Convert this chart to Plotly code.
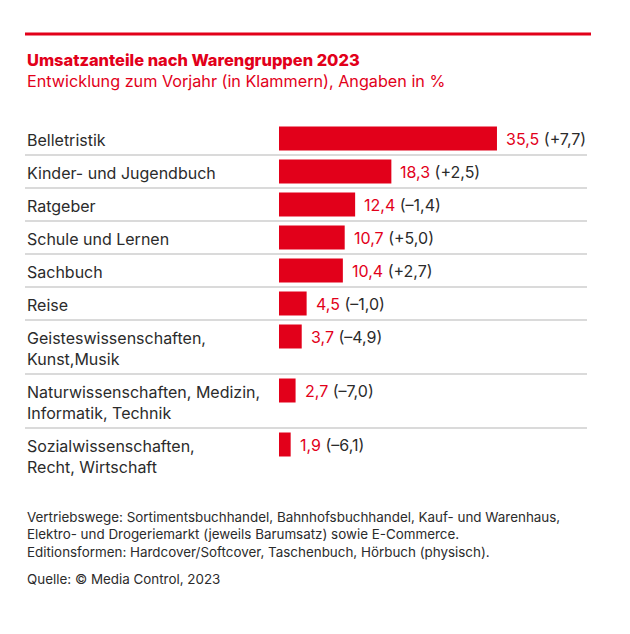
import plotly.graph_objects as go

# ---- data ----
categories = [
    "Belletristik",
    "Kinder- und Jugendbuch",
    "Ratgeber",
    "Schule und Lernen",
    "Sachbuch",
    "Reise",
    "Geisteswissenschaften,<br>Kunst,Musik",
    "Naturwissenschaften, Medizin,<br>Informatik, Technik",
    "Sozialwissenschaften,<br>Recht, Wirtschaft",
]
shares = [35.5, 18.3, 12.4, 10.7, 10.4, 4.5, 3.7, 2.7, 1.9]
changes = [7.7, 2.5, -1.4, 5.0, 2.7, -1.0, -4.9, -7.0, -6.1]

title = "Umsatzanteile nach Warengruppen 2023"
subtitle = "Entwicklung zum Vorjahr (in Klammern), Angaben in %"
footnote = ("Vertriebswege: Sortimentsbuchhandel, Bahnhofsbuchhandel, Kauf- und Warenhaus,<br>"
            "Elektro- und Drogeriemarkt (jeweils Barumsatz) sowie E-Commerce.<br>"
            "Editionsformen: Hardcover/Softcover, Taschenbuch, Hörbuch (physisch).")
source = "Quelle: © Media Control, 2023"

# ---- styling ----
RED = "#e2001a"
TEXT = "#2b2b2b"
GRID = "#b5b5b5"
FONT = "Inter"

OFF = 8  # page body margin in the browser
W, H = 630, 634
PLOT_L, PLOT_R = 279 - OFF, 591 - OFF   # pixel x of plot area
PLOT_T = 122 - OFF                      # pixel y of plot area top
ROW_H, EXTRA_LINE = 33, 21
LABEL_LINE = 21.5
BAR_PX = 24
PX_PER_UNIT = 6.14

# row layout derived from number of label lines
tops, centers, bottoms = [], [], []
cur = 0
for c in categories:
    n = c.count("<br>") + 1
    h = ROW_H + EXTRA_LINE * (n - 1)
    tops.append(cur)
    centers.append(cur + ROW_H / 2)
    cur += h
    bottoms.append(cur)
total = cur
PLOT_B = PLOT_T + total

def fmt(v):
    return f"{v:.1f}".replace(".", ",")

def fmt_change(v):
    sign = "+" if v >= 0 else "–"
    return sign + fmt(abs(v))

def px_x(p):  # reference pixel x -> paper
    return (p - OFF - PLOT_L) / (PLOT_R - PLOT_L)

def px_y(p):  # reference pixel y -> paper
    return (PLOT_B - (p - OFF)) / (PLOT_B - PLOT_T)

fig = go.Figure()
fig.add_trace(go.Bar(
    x=shares, y=centers, orientation="h", width=BAR_PX,
    marker=dict(color=RED, line=dict(width=0)),
    hoverinfo="skip",
))

annotations = []
# category labels (one annotation per line for exact line spacing)
for c, ctr in zip(categories, centers):
    for i, line in enumerate(c.split("<br>")):
        annotations.append(dict(
            text=line, xref="paper", yref="y", x=px_x(25), y=ctr + 1 + i * LABEL_LINE,
            xanchor="left", yanchor="middle", showarrow=False, align="left",
            font=dict(family=FONT, size=16, color=TEXT),
        ))
# value labels
for v, ch, ctr in zip(shares, changes, centers):
    annotations.append(dict(
        text=f'<span style="color:{RED}">{fmt(v)}</span> ({fmt_change(ch)})',
        xref="x", yref="y", x=v, y=ctr + 0.5, xshift=7,
        xanchor="left", yanchor="middle", showarrow=False,
        font=dict(family=FONT, size=16, color=TEXT),
    ))
# title / subtitle
annotations.append(dict(
    text=title, xref="paper", yref="paper", x=px_x(25), y=px_y(60),
    xanchor="left", yanchor="middle", showarrow=False,
    font=dict(family=FONT, size=16.4, color=RED, weight=800),
))
annotations.append(dict(
    text=subtitle, xref="paper", yref="paper", x=px_x(25), y=px_y(81),
    xanchor="left", yanchor="middle", showarrow=False,
    font=dict(family=FONT, size=16.2, color=RED),
))
# footnote
annotations.append(dict(
    text=footnote, xref="paper", yref="paper", x=px_x(25), y=px_y(507),
    xanchor="left", yanchor="top", showarrow=False, align="left",
    font=dict(family=FONT, size=13.4, color=TEXT),
))
annotations.append(dict(
    text=source, xref="paper", yref="paper", x=px_x(25), y=px_y(579),
    xanchor="left", yanchor="middle", showarrow=False, align="left",
    font=dict(family=FONT, size=13.4, color=TEXT),
))

shapes = []
# top red rule
shapes.append(dict(type="line", xref="paper", yref="paper",
                   x0=px_x(25), x1=px_x(591), y0=px_y(34), y1=px_y(34),
                   line=dict(color=RED, width=3)))
# separators
for b in bottoms[:-1]:
    shapes.append(dict(type="line", xref="paper", yref="y",
                       x0=px_x(25), x1=px_x(587), y0=b, y1=b,
                       line=dict(color=GRID, width=1.2)))

fig.update_layout(
    width=W, height=H,
    margin=dict(l=PLOT_L, r=W - PLOT_R, t=PLOT_T, b=H - PLOT_B, pad=0),
    paper_bgcolor="white", plot_bgcolor="white",
    showlegend=False,
    xaxis=dict(range=[0, (PLOT_R - PLOT_L) / PX_PER_UNIT], visible=False, fixedrange=True),
    yaxis=dict(range=[total, 0], visible=False, fixedrange=True),
    annotations=annotations, shapes=shapes,
    font=dict(family=FONT),
)

fig.write_html("out.html")
